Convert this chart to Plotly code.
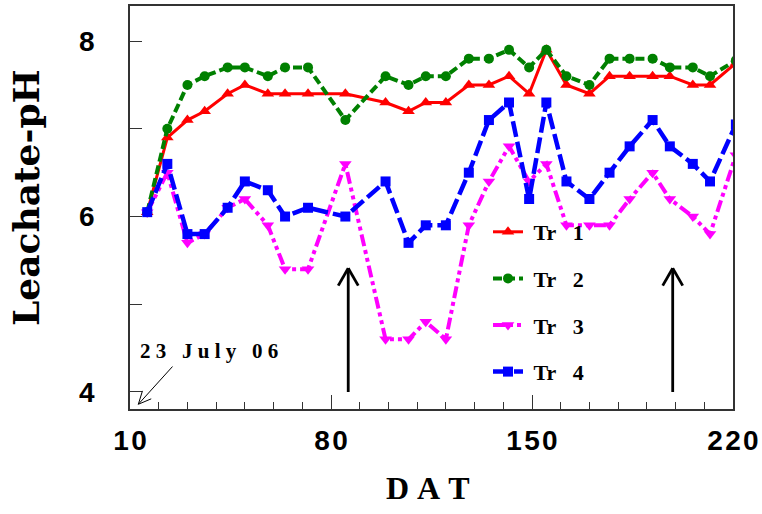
import math
import plotly.graph_objects as go

# ---------------- data ----------------
days = [16, 23, 30, 36, 44, 50, 58, 64, 72, 85, 99, 107, 113, 120, 128, 135,
        142, 149, 155, 162, 170, 177, 184, 192, 198, 206, 212, 221]
tr1 = [6.05, 6.9, 7.1, 7.2, 7.4, 7.5, 7.4, 7.4, 7.4, 7.4, 7.3, 7.2, 7.3, 7.3,
       7.5, 7.5, 7.6, 7.4, 7.9, 7.5, 7.4, 7.6, 7.6, 7.6, 7.6, 7.5, 7.5, 7.75]
tr2 = [6.05, 7.0, 7.5, 7.6, 7.7, 7.7, 7.6, 7.7, 7.7, 7.1, 7.6, 7.5, 7.6, 7.6,
       7.8, 7.8, 7.9, 7.7, 7.9, 7.6, 7.5, 7.8, 7.8, 7.8, 7.7, 7.7, 7.6, 7.78]
tr3 = [6.05, 6.5, 5.7, 5.8, 6.1, 6.2, 5.9, 5.4, 5.4, 6.6, 4.6, 4.6, 4.8, 4.6,
       5.9, 6.4, 6.8, 6.4, 6.6, 5.9, 5.9, 5.9, 6.2, 6.5, 6.2, 6.0, 5.8, 6.7]
tr4 = [6.05, 6.6, 5.8, 5.8, 6.1, 6.4, 6.3, 6.0, 6.1, 6.0, 6.4, 5.7, 5.9, 5.9,
       6.5, 7.1, 7.3, 6.2, 7.3, 6.4, 6.2, 6.5, 6.8, 7.1, 6.8, 6.6, 6.4, 7.05]
series_names = ["\u00a0Tr\u00a0\u00a0\u00a01", "\u00a0Tr\u00a0\u00a0\u00a02",
                "\u00a0Tr\u00a0\u00a0\u00a03", "\u00a0Tr\u00a0\u00a0\u00a04"]
x_tickvals = [10, 80, 150, 220]
x_ticktext = ["1\u200a0", "8\u200a0", "1\u200a5\u200a0", "2\u200a2\u200a0"]
y_tickvals = [4, 5, 6, 7, 8]
y_ticktext = ["4", "", "6", "", "8"]
arrow_days = [86, 199]          # vertical arrows
arrow_ph = [4.0, 5.41]
note_text = "2\u00a03\u00a0\u00a0\u00a0J\u00a0u\u00a0l\u00a0y\u00a0\u00a0\u00a00\u00a06"

# ---------------- layout geometry ----------------
W, H = 762, 514
ML, MR, MT, MB = 130, 29, 6, 105
XR = [10, 220]
YR = [3.806, 8.4]
PW, PH = W - ML - MR, H - MT - MB
sx = PW / (XR[1] - XR[0])      # px per day
sy = PH / (YR[1] - YR[0])      # px per pH unit

styles = [
    dict(color="#FF0000", dash="solid", width=3, symbol="triangle-up", size=11),
    dict(color="#008000", dash="9px,4px", width=4, symbol="circle", size=10),
    dict(color="#FF00FF", dash="12px,4px,4px,4px,4px,4px", width=4,
         symbol="triangle-down", size=11),
    dict(color="#0000FF", dash="16px,5px", width=4.5, symbol="square", size=10),
]

fig = go.Figure()
for name, vals, st in zip(series_names, [tr1, tr2, tr3, tr4], styles):
    fig.add_trace(go.Scatter(
        x=days, y=vals, name=name, mode="lines+markers",
        line=dict(color=st["color"], dash=st["dash"], width=st["width"]),
        marker=dict(symbol=st["symbol"], size=st["size"], color=st["color"],
                    line=dict(width=0)),
        legendgroup=name, cliponaxis=True,
    ))

shapes = []


def arrow(x0, y0, x1, y1, width, arm_len, arm_ang):
    """line from (x0,y0) to head (x1,y1) with open V head; arms computed in px."""
    shapes.append(dict(type="line", xref="x", yref="y", x0=x0, y0=y0, x1=x1, y1=y1,
                       line=dict(color="black", width=width)))
    dxp = (x0 - x1) * sx
    dyp = (y0 - y1) * sy
    L = math.hypot(dxp, dyp)
    ux, uy = dxp / L, dyp / L
    for s in (1, -1):
        a = math.radians(arm_ang) * s
        vx = ux * math.cos(a) - uy * math.sin(a)
        vy = ux * math.sin(a) + uy * math.cos(a)
        shapes.append(dict(type="line", xref="x", yref="y", x0=x1, y0=y1,
                           x1=x1 + vx * arm_len / sx, y1=y1 + vy * arm_len / sy,
                           line=dict(color="black", width=width)))


for d in arrow_days:
    arrow(d, arrow_ph[0], d, arrow_ph[1], 2.8, 20, 30)

# thin arrow pointing to origin
arrow(24.8, 4.29, 12.9, 3.86, 1, 14, 25)

fig.update_layout(shapes=shapes)

fig.add_annotation(x=37.4, y=4.47, xref="x", yref="y", text=note_text,
                   showarrow=False, xanchor="center", yanchor="middle",
                   font=dict(family="Liberation Serif", size=21, color="black",
                             weight="bold"))
fig.add_annotation(x=(26 - ML) / PW, y=(MT + PH - 198) / PH, xref="paper", yref="paper",
                   text="Leachate-pH", textangle=-90, showarrow=False,
                   xanchor="center", yanchor="middle",
                   font=dict(family="DejaVu Serif", size=36, color="black",
                             weight="bold"))
fig.add_annotation(x=(428 - ML) / PW, y=(MT + PH - 488) / PH, xref="paper", yref="paper",
                   text="D\u00a0A\u00a0T", showarrow=False,
                   xanchor="center", yanchor="middle",
                   font=dict(family="Liberation Serif", size=32, color="black",
                             weight="bold"))

axis_common = dict(showline=True, linecolor="#333333", linewidth=1.5, mirror=True,
                   showgrid=False, zeroline=False, ticks="inside", tickcolor="#333333",
                   tickwidth=1.2,
                   tickfont=dict(family="Liberation Sans", size=28, color="black",
                                 weight="bold"))

fig.update_xaxes(range=XR, tickvals=x_tickvals, ticktext=x_ticktext, ticklen=14,
                 ticklabelstandoff=6,
                 minor=dict(dtick=10, tick0=10, ticks="inside", ticklen=7,
                            tickcolor="#333333", tickwidth=1.2),
                 **axis_common)
fig.update_yaxes(range=YR, tickvals=y_tickvals, ticktext=y_ticktext, ticklen=12,
                 ticklabelstandoff=28, **axis_common)

fig.update_layout(
    width=W, height=H,
    margin=dict(l=ML, r=MR, t=MT, b=MB, autoexpand=False),
    paper_bgcolor="white", plot_bgcolor="white",
    showlegend=True,
    legend=dict(x=(488 - ML) / PW, y=(MT + PH - 211) / PH, xanchor="left", yanchor="top",
                bgcolor="rgba(0,0,0,0)", borderwidth=0, tracegroupgap=15,
                font=dict(family="Liberation Serif", size=22, color="black",
                          weight="bold"),
                itemwidth=30),
)

fig.write_html("out.html",
               config={"displayModeBar": False},
               post_script="document.body.style.margin='0px';"
                           "document.body.style.overflow='hidden';")
